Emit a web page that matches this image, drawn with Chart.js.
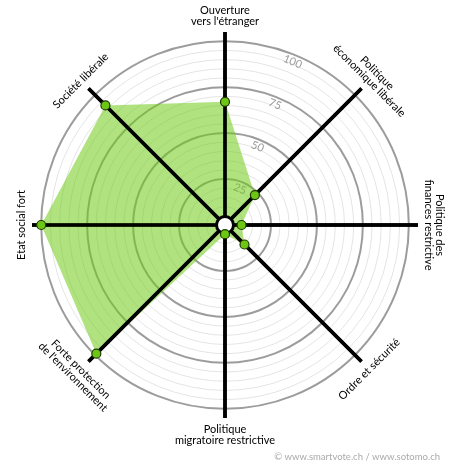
<!DOCTYPE html>
<html>
<head>
<meta charset="utf-8">
<script src="https://cdn.jsdelivr.net/npm/chart.js@4"></script>
<style>
  html, body { margin: 0; padding: 0; background: #fff; }
</style>
</head>
<body>
<canvas id="spider" width="450" height="470"></canvas>
<script>
// Axes, clockwise from the top
const axisLabels = [
  ["Ouverture", "vers l'étranger"],
  ["Politique", "économique libérale"],
  ["Politique des", "finances restrictive"],
  ["Ordre et sécurité"],
  ["Politique", "migratoire restrictive"],
  ["Forte protection", "de l'environnement"],
  ["Etat social fort"],
  ["Société libérale"],
];
const profileValues = [67, 23, 9, 15, 5, 99, 100, 92];
const ringLabels = [25, 50, 75, 100];
const creditText = "© www.smartvote.ch / www.sotomo.ch";

const labelFont = "11px Lato, 'Noto Sans', sans-serif";

const spiderExtras = {
  id: "spiderExtras",
  beforeDatasetsDraw(chart) {
    // ring values, between the first two axes
    const r = chart.scales.r;
    const ctx = chart.ctx;
    ctx.save();
    ctx.fillStyle = "#9a9a9a";
    ctx.font = "11px Lato, 'Noto Sans', sans-serif";
    ctx.textAlign = "center";
    ctx.textBaseline = "middle";
    ringLabels.forEach((v) => {
      const p = r.getPointPosition(0.5, r.getDistanceFromCenterForValue(v) - 7);
      ctx.save();
      ctx.translate(p.x, p.y);
      ctx.rotate(Math.PI / 8);
      ctx.fillText(String(v), 0, 0);
      ctx.restore();
    });
    ctx.restore();
  },
  afterDatasetDraw(chart, args) {
    // axes again on top of the fill, then the white hub, then the points
    if (args.index !== 0) return;
    const r = chart.scales.r;
    const ctx = chart.ctx;
    const outer = r.getDistanceFromCenterForValue(r.max);
    ctx.save();
    ctx.strokeStyle = "#000";
    ctx.lineWidth = 3.5;
    for (let i = 0; i < axisLabels.length; i++) {
      const p = r.getPointPosition(i, outer);
      ctx.beginPath();
      ctx.moveTo(r.xCenter, r.yCenter);
      ctx.lineTo(p.x, p.y);
      ctx.stroke();
    }
    ctx.beginPath();
    ctx.arc(r.xCenter, r.yCenter, 8.5, 0, Math.PI * 2);
    ctx.fillStyle = "#fff";
    ctx.fill();
    ctx.lineWidth = 3;
    ctx.stroke();
    ctx.restore();
  },
  afterDraw(chart) {
    const r = chart.scales.r;
    const ctx = chart.ctx;
    const n = axisLabels.length;
    ctx.save();
    ctx.fillStyle = "#000";
    ctx.font = labelFont;
    ctx.textAlign = "center";
    ctx.textBaseline = "middle";
    axisLabels.forEach((lines, i) => {
      const deg = (i * 360) / n;
      const bottom = deg > 90 && deg < 270;
      let rot = deg;
      if (bottom) rot = deg - 180;
      else if (deg >= 270) rot = deg - 360;
      const base = r.drawingArea + 11;
      lines.forEach((line, j) => {
        const k = bottom ? j : lines.length - 1 - j;
        const p = r.getPointPosition(i, base + k * 11);
        ctx.save();
        ctx.translate(p.x, p.y);
        ctx.rotate((rot * Math.PI) / 180);
        ctx.fillText(line, 0, 0);
        ctx.restore();
      });
    });

    ctx.fillStyle = "#aaa";
    ctx.font = "9.5px Lato, 'Noto Sans', sans-serif";
    ctx.textAlign = "right";
    ctx.textBaseline = "alphabetic";
    ctx.fillText(creditText, 440, 460);
    ctx.restore();
  },
};

new Chart(document.getElementById("spider"), {
  type: "radar",
  data: {
    labels: axisLabels,
    datasets: [
      {
        data: profileValues,
        fill: true,
        backgroundColor: "rgba(111, 204, 22, 0.55)",
        borderWidth: 0,
        pointRadius: 0,
        order: 2,
      },
      {
        data: profileValues,
        showLine: false,
        fill: false,
        pointRadius: 4.5,
        pointBackgroundColor: "#6cc614",
        pointBorderColor: "#1f3a00",
        pointBorderWidth: 1.2,
        order: 1,
      },
    ],
  },
  options: {
    responsive: false,
    animation: false,
    layout: { padding: { left: 32, right: 32, top: 32, bottom: 52 } },
    plugins: {
      legend: { display: false },
      tooltip: { enabled: false },
    },
    scales: {
      r: {
        min: 0,
        max: 105,
        ticks: { display: false, stepSize: 5 },
        pointLabels: { display: false },
        grid: {
          circular: true,
          color: (c) => {
            if (c.tick.value > 100) return "rgba(0,0,0,0)";
            return c.tick.value % 25 === 0 ? "#9c9c9c" : "#e4e4e4";
          },
          lineWidth: (c) => (c.tick.value % 25 === 0 ? 2 : 1),
        },
        angleLines: { color: "#000", lineWidth: 3.5 },
      },
    },
  },
  plugins: [spiderExtras],
});
</script>
</body>
</html>
